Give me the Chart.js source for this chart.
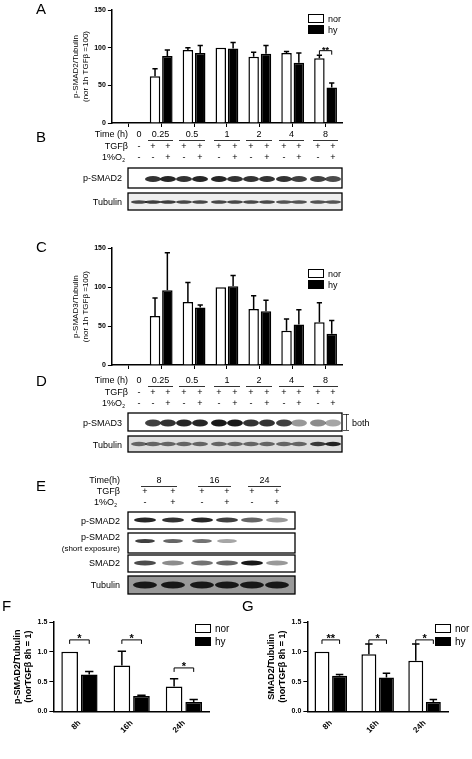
<!DOCTYPE html>
<html>
<head>
<meta charset="utf-8">
<script src="https://cdn.jsdelivr.net/npm/chart.js@4.4.0/dist/chart.umd.min.js"></script>
<style>
body{margin:0;background:#fff;width:472px;height:759px;position:relative;overflow:hidden;font-family:Arial,"Liberation Sans",sans-serif}
canvas{position:absolute}
.leg{position:absolute;font-size:9px;line-height:11px}
.leg span{display:inline-block;width:14px;height:7px;border:1.3px solid #000;margin-right:4px;vertical-align:-1px}
</style>
</head>
<body>
<canvas id="bg" width="472" height="759" style="left:0;top:0"></canvas>
<canvas id="chartA" width="310" height="135" style="left:40px;top:2px"></canvas>
<canvas id="chartC" width="310" height="135" style="left:40px;top:242px"></canvas>
<canvas id="chartF" width="200" height="140" style="left:10px;top:598px"></canvas>
<canvas id="chartG" width="200" height="140" style="left:264px;top:598px"></canvas>
<div class="leg" style="left:308px;top:14px"><span></span>nor<br><span style="background:#000"></span>hy</div>
<div class="leg" style="left:308px;top:269px"><span></span>nor<br><span style="background:#000"></span>hy</div>
<div class="leg" style="left:195px;top:622px;font-size:10px;line-height:13px"><span></span>nor<br><span style="background:#000"></span>hy</div>
<div class="leg" style="left:435px;top:622px;font-size:10px;line-height:13px"><span></span>nor<br><span style="background:#000"></span>hy</div>
<script>
// time course panels A and C
var timeLabels = ['0','0.25','0.5','1','2','4','8'];
var smad2Nor = [0,62,97,100,88,93,86];
var smad2NorErr = [0,10,3,0,6,2,4];
var smad2Hy = [0,89,93,99,92,80,47];
var smad2HyErr = [0,8,10,8,11,13,6];
var smad3Nor = [0,63,81,100,72,44,55];
var smad3NorErr = [0,23,25,0,17,15,25];
var smad3Hy = [0,96,74,101,69,52,40];
var smad3HyErr = [0,48,3,14,14,19,17];
// panels F and G
var hourLabels = ['8h','16h','24h'];
var pSmad2Nor = [1.0,0.77,0.42];
var pSmad2NorErr = [0,0.24,0.13];
var pSmad2Hy = [0.62,0.26,0.16];
var pSmad2HyErr = [0.05,0.01,0.04];
var totSmad2Nor = [1.0,0.96,0.85];
var totSmad2NorErr = [0,0.17,0.28];
var totSmad2Hy = [0.60,0.57,0.16];
var totSmad2HyErr = [0.02,0.07,0.04];

Chart.defaults.font.family = 'Arial, "Liberation Sans", sans-serif';
Chart.defaults.color = '#000';
Chart.defaults.devicePixelRatio = 1;

var errorBars = {
    id: 'errorBars',
    afterDatasetsDraw: function(chart) {
        var ctx = chart.ctx, y = chart.scales.y;
        chart.data.datasets.forEach(function(ds, d) {
            var meta = chart.getDatasetMeta(d);
            meta.data.forEach(function(bar, i) {
                var e = ds.err[i];
                if (!e) return;
                var top = y.getPixelForValue(ds.data[i] + e);
                ctx.save();
                ctx.strokeStyle = '#000';
                ctx.lineWidth = 1.5;
                ctx.beginPath();
                ctx.moveTo(bar.x, bar.y);
                ctx.lineTo(bar.x, top);
                ctx.moveTo(bar.x - bar.width / 4, top);
                ctx.lineTo(bar.x + bar.width / 4, top);
                ctx.stroke();
                ctx.restore();
            });
        });
        var sig = chart.options.plugins.sig || [];
        sig.forEach(function(s) {
            var a = chart.getDatasetMeta(0).data[s.i], b = chart.getDatasetMeta(1).data[s.i];
            var py = y.getPixelForValue(s.y);
            ctx.save();
            ctx.lineWidth = 1;
            ctx.beginPath();
            ctx.moveTo(a.x, py + 4); ctx.lineTo(a.x, py); ctx.lineTo(b.x, py); ctx.lineTo(b.x, py + 4);
            ctx.stroke();
            ctx.font = 'bold ' + s.size + 'px Arial';
            ctx.textAlign = 'center';
            ctx.fillText(s.text, (a.x + b.x) / 2, py + 2);
            ctx.restore();
        });
    }
};

function makeChart(id, labels, nor, norErr, hy, hyErr, opt) {
    return new Chart(document.getElementById(id), {
        type: 'bar',
        data: {
            labels: labels,
            datasets: [
                {label: 'nor', data: nor, err: norErr, backgroundColor: '#fff', borderColor: '#000', borderWidth: 1.5},
                {label: 'hy', data: hy, err: hyErr, backgroundColor: '#000', borderColor: '#000', borderWidth: 1.5}
            ]
        },
        options: {
            responsive: false,
            animation: false,
            categoryPercentage: opt.cat,
            barPercentage: 0.85,
            layout: {padding: opt.pad},
            plugins: {legend: {display: false}, tooltip: {enabled: false}, sig: opt.sig},
            scales: {
                y: {
                    min: 0, max: opt.max,
                    ticks: {stepSize: opt.step, font: {size: 7, weight: 'bold'}, padding: 2,
                        callback: function(v) { return opt.fmt ? v.toFixed(1) : v; }},
                    grid: {drawOnChartArea: false, tickLength: 4, color: '#000'},
                    border: {color: '#000', width: 1.5},
                    title: {display: true, text: opt.title, font: {size: opt.tsize, weight: opt.tweight}, padding: 2}
                },
                x: {
                    ticks: {display: opt.xlab, font: {size: 8, weight: 'bold'}, maxRotation: 45, minRotation: 45},
                    grid: {drawOnChartArea: false, offset: false, tickLength: 4, color: '#000', display: !opt.xlab},
                    border: {color: '#000', width: 1.5}
                }
            }
        },
        plugins: [errorBars]
    });
}

makeChart('chartA', timeLabels, smad2Nor, smad2NorErr, smad2Hy, smad2HyErr,
    {max: 150, step: 50, cat: 0.75, title: ['p-SMAD2/Tubulin', '(nor 1h TGFβ =100)'], tsize: 8, tweight: 'normal',
     pad: {top: 8, right: 8, left: 29, bottom: 10}, xlab: false, sig: [{i: 6, y: 96, text: '**', size: 9}]});
makeChart('chartC', timeLabels, smad3Nor, smad3NorErr, smad3Hy, smad3HyErr,
    {max: 150, step: 50, cat: 0.75, title: ['p-SMAD3/Tubulin', '(nor 1h TGFβ =100)'], tsize: 8, tweight: 'normal',
     pad: {top: 2, right: 8, left: 29, bottom: 8}, xlab: false, sig: []});
makeChart('chartF', hourLabels, pSmad2Nor, pSmad2NorErr, pSmad2Hy, pSmad2HyErr,
    {max: 1.5, step: 0.5, cat: 0.75, fmt: true, title: ['p-SMAD2/Tubulin', '(norTGFβ 8h = 1)'], tsize: 9, tweight: 'bold',
     pad: {top: 24, right: 0, left: 0, bottom: 0}, xlab: true,
     sig: [{i: 0, y: 1.2, text: '*', size: 11}, {i: 1, y: 1.2, text: '*', size: 11}, {i: 2, y: 0.73, text: '*', size: 11}]});
makeChart('chartG', hourLabels, totSmad2Nor, totSmad2NorErr, totSmad2Hy, totSmad2HyErr,
    {max: 1.5, step: 0.5, cat: 0.75, fmt: true, title: ['SMAD2/Tubulin', '(norTGFβ 8h = 1)'], tsize: 9, tweight: 'bold',
     pad: {top: 24, right: 16, left: 0, bottom: 0}, xlab: true,
     sig: [{i: 0, y: 1.2, text: '**', size: 11}, {i: 1, y: 1.2, text: '*', size: 11}, {i: 2, y: 1.2, text: '*', size: 11}]});

// blots and panel letters (illustration, not data)
var c = document.getElementById('bg').getContext('2d');
function txt(s, x, y, size, align) {
    c.font = (size || 9) + 'px Arial';
    c.textAlign = align || 'left';
    c.fillStyle = '#000';
    c.fillText(s, x, y);
}
function letter(s, x, y) { txt(s, x, y, 15); }
function box(x, y, w, h, bgc) {
    c.fillStyle = bgc;
    c.fillRect(x, y, w, h);
    c.strokeStyle = '#000';
    c.lineWidth = 1.3;
    c.strokeRect(x, y, w, h);
}
function bands(lanes, y, h, shades, wdt) {
    lanes.forEach(function(x, i) {
        if (shades[i] == null) return;
        c.fillStyle = 'rgba(0,0,0,' + shades[i] + ')';
        c.beginPath();
        c.ellipse(x, y, wdt, h, 0, 0, Math.PI * 2);
        c.fill();
    });
}
letter('A', 36, 14);
letter('B', 36, 142);
letter('C', 36, 252);
letter('D', 36, 386);
letter('E', 36, 491);
letter('F', 2, 611);
letter('G', 242, 611);

var lanes13 = [139,153,168,184,200,219,235,251,267,284,299,318,333];
var tg = ['-','+','+','+','+','+','+','+','+','+','+','+','+'];
var ox = ['-','-','+','-','+','-','+','-','+','-','+','-','+'];
var tp = ['0','0.25','0.5','1','2','4','8'];
function header(top, lanes) {
    txt('Time (h)', 128, top, 9, 'right');
    txt('TGFβ', 128, top + 12, 9, 'right');
    txt('1%O', 122, top + 23, 9, 'right');
    txt('2', 125, top + 25, 5, 'right');
    txt(tp[0], lanes[0], top, 9, 'center');
    for (var k = 1; k < 7; k++) {
        var a = lanes[2 * k - 1], b = lanes[2 * k];
        txt(tp[k], (a + b) / 2, top, 9, 'center');
        c.fillRect(a - 5, top + 3, b - a + 10, 0.8);
    }
    lanes.forEach(function(x, i) { txt(tg[i], x, top + 12, 9, 'center'); txt(ox[i], x, top + 23, 9, 'center'); });
}
header(137, lanes13);
txt('p-SMAD2', 122, 181, 9, 'right');
box(128, 168, 214, 20, '#fff');
bands(lanes13, 179, 3, [null,.8,.85,.8,.85,.85,.8,.8,.8,.8,.75,.75,.7], 8);
txt('Tubulin', 122, 205, 9, 'right');
box(128, 193, 214, 17, '#eee');
bands(lanes13, 202, 1.8, [.7,.75,.75,.7,.7,.7,.7,.7,.7,.65,.65,.65,.65], 8);

header(383, lanes13);
txt('p-SMAD3', 122, 426, 9, 'right');
box(128, 413, 214, 18, '#fff');
bands(lanes13, 423, 3.5, [null,.75,.8,.85,.85,.9,.9,.8,.8,.75,.4,.45,.35], 8);
txt('Tubulin', 122, 448, 9, 'right');
box(128, 436, 214, 16, '#ddd');
bands(lanes13, 444, 2.2, [.55,.55,.55,.55,.55,.55,.55,.55,.55,.55,.55,.75,.85], 8);
c.fillRect(346, 414, 0.8, 16); c.fillRect(343, 414, 6, 0.8); c.fillRect(343, 430, 6, 0.8);
txt('both', 352, 426, 9);

var lanes6 = [145,173,202,227,252,277];
txt('Time(h)', 120, 483, 9, 'right');
txt('TGFβ', 120, 494, 9, 'right');
txt('1%O', 114, 505, 9, 'right');
txt('2', 117, 507, 5, 'right');
['8','16','24'].forEach(function(s, k) {
    var a = lanes6[2 * k], b = lanes6[2 * k + 1];
    txt(s, (a + b) / 2, 483, 9, 'center');
    c.fillRect(a - 4, 486, b - a + 8, 0.8);
    txt('+', a, 494, 9, 'center'); txt('+', b, 494, 9, 'center');
    txt('-', a, 505, 9, 'center'); txt('+', b, 505, 9, 'center');
});
txt('p-SMAD2', 120, 524, 9, 'right');
box(128, 512, 167, 17, '#fff');
bands(lanes6, 520, 2.5, [.85,.8,.85,.75,.6,.4], 11);
txt('p-SMAD2', 120, 540, 9, 'right');
txt('(short exposure)', 120, 551, 8, 'right');
box(128, 533, 167, 20, '#fff');
bands(lanes6, 541, 2, [.75,.6,.55,.35,null,null], 10);
txt('SMAD2', 120, 566, 9, 'right');
box(128, 555, 167, 17, '#fff');
bands(lanes6, 563, 2.5, [.7,.45,.55,.6,.9,.4], 11);
txt('Tubulin', 120, 588, 9, 'right');
box(128, 576, 167, 18, '#999');
bands(lanes6, 585, 3.5, [.85,.85,.85,.85,.85,.85], 12);
</script>
</body>
</html>
